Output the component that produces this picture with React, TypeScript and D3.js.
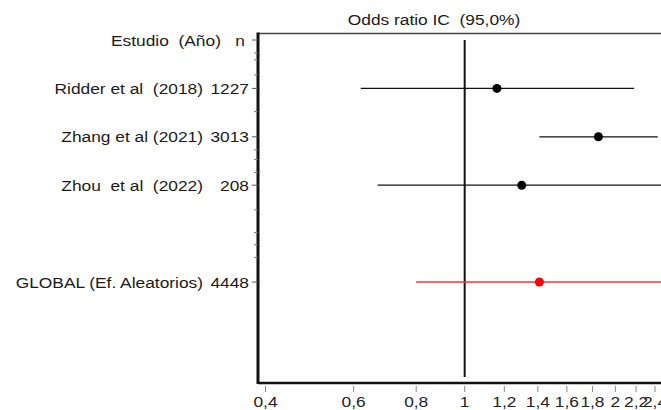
import React, { useEffect, useRef } from "react";
import * as d3 from "d3";

// estudios del meta-análisis (fila 0 = cabecera)
const studyLabels = ["Ridder et al  (2018)", "Zhang et al (2021)", "Zhou  et al  (2022)", "GLOBAL (Ef. Aleatorios)"];
const sampleSizes = [1227, 3013, 208, 4448];
const oddsRatios = [1.16, 1.85, 1.30, 1.41];
const ciLower = [0.62, 1.41, 0.67, 0.80];
const ciUpper = [2.18, 2.43, 2.6, 2.48];
const studyRows = [1, 2, 3, 5];
const isPooled = [false, false, false, true];
const xTicks = [0.4, 0.6, 0.8, 1, 1.2, 1.4, 1.6, 1.8, 2, 2.2, 2.4];
const minorRows = [0.27, 0.41, 0.72, 1.48, 2.27, 2.47, 2.74, 3.51, 3.98, 4.23, 4.49];

export default function App() {
    const svgRef = useRef<SVGSVGElement>(null);
    const width = 661;
    const height = 410;

    useEffect(() => {
        if (!svgRef.current) return;
        const svg = d3.select(svgRef.current);
        svg.selectAll("*").remove();

        const font = "'Liberation Sans', Arial, sans-serif";
        const fs = 15.5;
        const sx = 1.12;
        const left = 258, right = 661, top = 33.5, bottom = 383;

        const x = d3.scaleLog().domain([0.4, 2.4]).range([265.5, 655]);
        const y = d3.scaleLinear().domain([0, 5]).range([40, 282]);

        const txt = (g, tx, ty, s, anchor, color = "#1a1a1a") =>
            g.append("text")
                .attr("transform", `translate(${tx},${ty}) scale(${sx},1)`)
                .attr("text-anchor", anchor)
                .attr("font-family", font)
                .attr("font-size", fs)
                .attr("fill", color)
                .style("white-space", "pre")
                .text(s);

        // title
        txt(svg, 434, 25, "Odds ratio IC  (95,0%)", "middle");

        // frame
        svg.append("line").attr("x1", left).attr("x2", right).attr("y1", top).attr("y2", top)
            .attr("stroke", "#444").attr("stroke-width", 1.5);
        svg.append("line").attr("x1", left).attr("x2", right).attr("y1", bottom).attr("y2", bottom)
            .attr("stroke", "#111").attr("stroke-width", 2.5);
        svg.append("line").attr("x1", left).attr("x2", left).attr("y1", top - 1).attr("y2", bottom + 1)
            .attr("stroke", "#111").attr("stroke-width", 3);

        // minor y ticks
        svg.selectAll(".minor").data(minorRows).join("line")
            .attr("x1", left - 4).attr("x2", left)
            .attr("y1", d => y(d)).attr("y2", d => y(d))
            .attr("stroke", "#777").attr("stroke-width", 1);

        // y labels (header + studies)
        const rowsAll = [0, ...studyRows];
        svg.selectAll(".major").data(rowsAll).join("line")
            .attr("x1", left - 6).attr("x2", left)
            .attr("y1", d => y(d)).attr("y2", d => y(d))
            .attr("stroke", "#555").attr("stroke-width", 1);

        txt(svg, 245, y(0) + 5.5, "Estudio  (Año)   n", "end");
        studyLabels.forEach((s, i) => {
            txt(svg, 203, y(studyRows[i]) + 5.5, s, "end");
            txt(svg, 249, y(studyRows[i]) + 5.5, String(sampleSizes[i]), "end");
        });

        // x axis ticks & labels
        svg.selectAll(".xt").data(xTicks).join("line")
            .attr("x1", d => x(d)).attr("x2", d => x(d))
            .attr("y1", bottom + 3).attr("y2", bottom + 9)
            .attr("stroke", "#888").attr("stroke-width", 1);
        xTicks.forEach(t => txt(svg, x(t), 407, String(t).replace(".", ","), "middle", "#222"));

        // null line
        svg.append("line").attr("x1", x(1)).attr("x2", x(1)).attr("y1", 40).attr("y2", 377)
            .attr("stroke", "#111").attr("stroke-width", 2);

        // CIs and points
        const clip = v => Math.min(right, Math.max(left, x(v)));
        studyRows.forEach((r, i) => {
            const col = isPooled[i] ? "#ff3030" : "#111";
            svg.append("line")
                .attr("x1", clip(ciLower[i])).attr("x2", clip(ciUpper[i]))
                .attr("y1", y(r)).attr("y2", y(r))
                .attr("stroke", col).attr("stroke-width", isPooled[i] ? 1.5 : 1.2);
            svg.append("circle")
                .attr("cx", x(oddsRatios[i])).attr("cy", y(r)).attr("r", 4.5)
                .attr("fill", isPooled[i] ? "#ff0000" : "#000");
        });
    }, [svgRef]);

    return (
        <svg
            ref={svgRef}
            width={width}
            height={height}
            style={{ position: "absolute", left: 0, top: 0, background: "#fff" }}
        />
    );
}
